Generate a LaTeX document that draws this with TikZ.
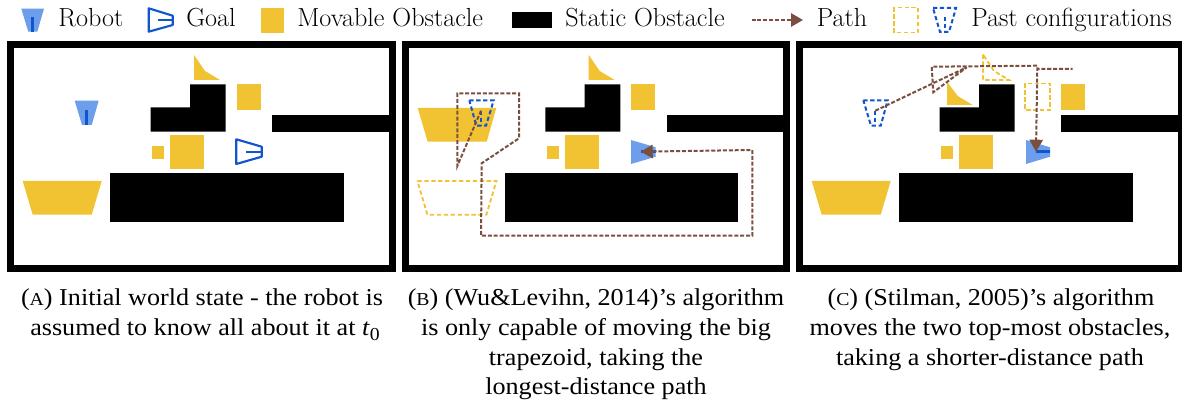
\documentclass[tikz,border=0pt]{standalone}
\usepackage{fontspec}
\newfontfamily\capfont[FakeStretch=1.08]{Liberation Serif}
\usetikzlibrary{arrows.meta}
\definecolor{movy}{HTML}{F1C232}
\definecolor{robl}{HTML}{6D9EEB}
\definecolor{drbl}{HTML}{1155CC}
\definecolor{pathc}{HTML}{7B4F3F}
\newcommand{\capsize}{\fontsize{18.15}{22.5}\selectfont}
\newcommand{\capsmall}{\fontsize{13.7}{15}\selectfont}
\tikzset{
  movable/.style={fill=movy},
  statics/.style={fill=black},
  robotfill/.style={fill=robl},
  robotline/.style={draw=drbl,line width=2.4pt},
  goalline/.style={draw=drbl,line width=1.6pt,line join=round},
  pasty/.style={draw=movy,line width=1.4pt,dash pattern=on 3.2pt off 2pt},
  pastb/.style={draw=drbl,line width=1.5pt,dash pattern=on 3.2pt off 2pt},
  pathline/.style={draw=pathc,line width=1.5pt,dash pattern=on 3pt off 1.4pt},
  pathtip/.style={-{Triangle[length=9pt,width=10pt,fill=pathc]}},
  legendtext/.style={font=\fontsize{19.6}{22}\selectfont,anchor=base west,inner sep=0pt},
  captext/.style={font=\capfont\capsize,align=center,anchor=base,inner sep=0pt}
}
\newcommand{\worldframe}[2]{%
  \fill[black] (#1,41) rectangle (#2,272);
  \fill[white] (#1+7.3,48) rectangle (#2-7.3,265);}
\newcommand{\fixedparts}{%
  \fill[statics] (190,84.3) -- (225.7,84.3) -- (225.7,131.7) -- (150.7,131.7) -- (150.7,107.3) -- (190,107.3) -- cycle;
  \fill[statics] (272,115) rectangle (389,131.7);
  \fill[statics] (110.3,173.3) rectangle (343.7,222);
  \fill[movable] (152,146.3) rectangle (164,158.7);
  \fill[movable] (170.3,135) rectangle (204,168.7);}
\begin{document}
\begin{tikzpicture}[x=0.75pt,y=-0.75pt]
\useasboundingbox (0,0) rectangle (1182,402);
% legend
\fill[robotfill] (21.3,8.7) -- (44,8.7) -- (37.3,31.7) -- (28.3,31.7) -- cycle;
\draw[robotline] (32.7,17.3) -- (32.7,31.7);
\node[legendtext] (lrobot) at (58,27) {Robot};
\draw[goalline] (148.7,8.3) -- (172.7,15.7) -- (172.7,25) -- (148.7,31.7) -- cycle;
\draw[goalline] (157.7,20) -- (172.7,20);
\node[legendtext] (lgoal) at (186,27) {Goal};
\fill[movable] (261,8) rectangle (284,33);
\node[legendtext] (lmov) at (297,27) {Movable Obstacle};
\fill[statics] (511.5,12) rectangle (551.5,28);
\node[legendtext] (lstat) at (565,27) {Static Obstacle};
\coordinate (lpa) at (751.5,20);
\coordinate (lpb) at (803,20);
\draw[pathline,pathtip] (lpa) -- (lpb);
\node[legendtext] (lpath) at (816.5,27) {Path};
\draw[pasty] (894,7.5) rectangle (918,32.5);
\draw[pastb] (933,8) -- (956,8) -- (949,32) -- (940,32) -- cycle;
\draw[pastb] (944.5,17) -- (944.5,32);
\node[legendtext] (lpast) at (971,27) {Past configurations};

% panel A
\worldframe{7}{396}
\fixedparts
\fill[movable] (194,55) -- (194,80) -- (220,80) -- (205,71) -- cycle;
\fill[movable] (237,84.3) rectangle (261,109.7);
\fill[movable] (22.7,181) -- (101.7,181) -- (91.7,214.7) -- (32.7,214.7) -- cycle;
\fill[robotfill] (74.7,100.7) -- (98.7,100.7) -- (91.7,125) -- (82,125) -- cycle;
\draw[robotline] (86.7,110) -- (86.7,125);
\draw[goalline] (236.3,139.3) -- (261.7,146.7) -- (261.7,156.7) -- (236.3,164) -- cycle;
\draw[goalline] (246,152) -- (261.7,152);

% panel B
\worldframe{402}{790}
\begin{scope}[shift={(394.7,0)}]
\fixedparts
\fill[movable] (194,55) -- (194,80) -- (220,80) -- (205,71) -- cycle;
\fill[movable] (236.3,84.3) rectangle (260.3,109.7);
\draw[pasty] (22.7,181) -- (101.7,181) -- (91.7,214.7) -- (32.7,214.7) -- cycle;
\end{scope}
\fill[movable] (417.7,108) -- (496.3,108) -- (486.7,141.7) -- (427.7,141.7) -- cycle;
\fill[robotfill] (631,140) -- (655.7,147.3) -- (655.7,156.7) -- (631,164) -- cycle;
\draw[robotline] (641,151.7) -- (655.7,151.7);
\draw[pastb] (469.3,100.3) -- (493.7,100.3) -- (486,125.7) -- (476.3,125.7) -- cycle;
\draw[pastb] (481,110.7) -- (481,125.7);
\draw[pathline,pathtip] (481,110.7) -- (457.3,166) -- (457.3,93.3) -- (519,93.3) -- (519,138.3) -- (481.7,163.3) -- (481,235.7) -- (752.3,235.7) -- (752.3,150) -- (640.7,151.7);

% panel C
\worldframe{796}{1185.6}
\begin{scope}[shift={(789,0)}]
\fixedparts
\fill[movable] (22.7,181) -- (101.7,181) -- (91.7,214.7) -- (32.7,214.7) -- cycle;
\draw[pasty] (194,54.5) -- (194,80) -- (220,80) -- (205,71) -- cycle;
\end{scope}
\fill[movable] (947,81.7) -- (947,105) -- (972.7,105) -- (957.7,96) -- cycle;
\fill[movable] (1061,84) rectangle (1085.3,109.7);
\draw[pasty] (1025.3,83.5) rectangle (1050.3,110.3);
\fill[robotfill] (1026,140) -- (1050,147.3) -- (1050,156.7) -- (1026,164) -- cycle;
\draw[robotline] (1035.5,151.7) -- (1050,151.7);
\draw[pastb] (863.3,100.3) -- (887.7,100.3) -- (880.7,125.7) -- (871,125.7) -- cycle;
\draw[pastb] (875.3,110.7) -- (875.3,125.7);
\draw[pathline,pathtip] (875.3,110.7) -- (966.7,67.3) -- (933.3,92.3) -- (931.7,66.7) -- (1037.3,65.7) -- (1037.3,69) -- (1072.7,69) -- (1037.3,69) -- (1036,151.7);

% captions
\node[captext] (capa1) at (202,306) {({\capsmall A}) Initial world state - the robot is};
\node[captext] (capa2) at (205,336) {assumed to know all about it at \textit{t}\raisebox{-0.2em}{\capsmall 0}};
\node[captext] (capb1) at (596,306) {({\capsmall B}) (Wu\&Levihn, 2014)’s algorithm};
\node[captext] (capb2) at (596,336) {is only capable of moving the big};
\node[captext] (capb3) at (596,366) {trapezoid, taking the};
\node[captext] (capb4) at (596,395) {longest-distance path};
\node[captext] (capc1) at (991,306) {({\capsmall C}) (Stilman, 2005)’s algorithm};
\node[captext] (capc2) at (990,336) {moves the two top-most obstacles,};
\node[captext] (capc3) at (990,366) {taking a shorter-distance path};
\end{tikzpicture}
\end{document}
